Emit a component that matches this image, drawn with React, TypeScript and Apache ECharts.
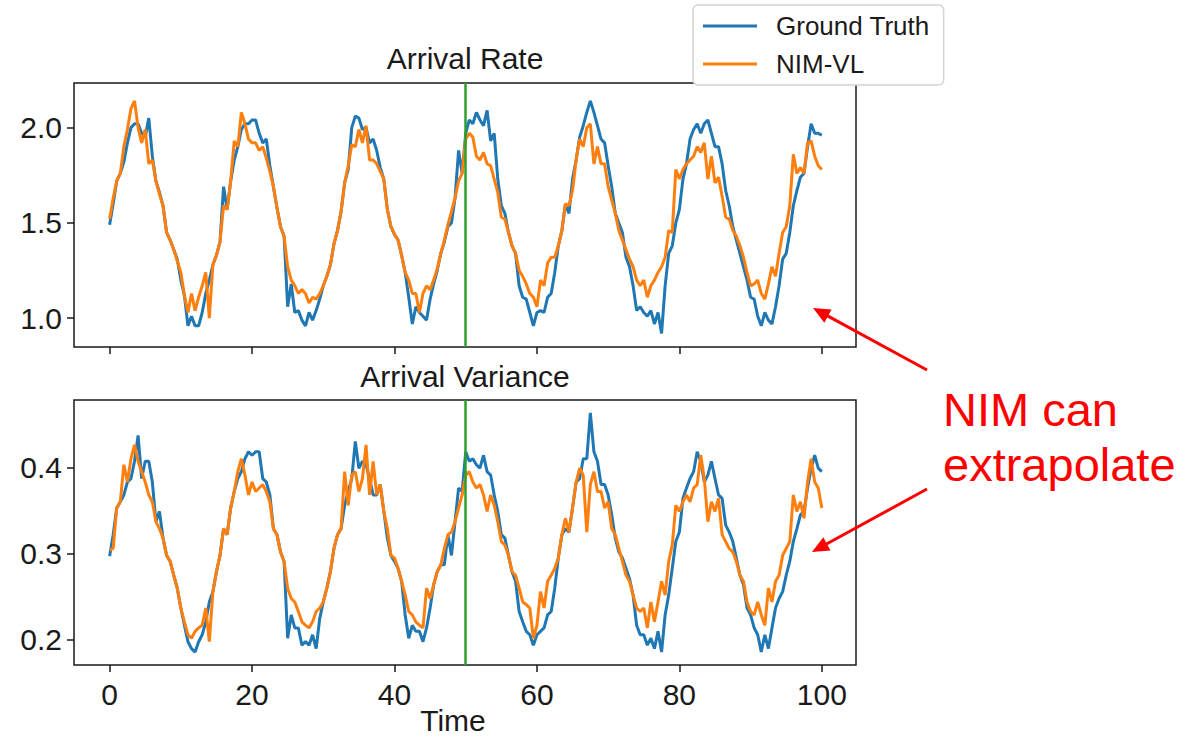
import React, { useEffect, useRef } from "react";
import * as echarts from "echarts";

const TIME_STEP = 0.5;
const X_TICKS = [0, 20, 40, 60, 80, 100];
const RATE_TICKS = [1.0, 1.5, 2.0];
const VAR_TICKS = [0.2, 0.3, 0.4];
const SPLIT_TIME = 50;

const rateTruth = [
  1.49, 1.60, 1.72, 1.76, 1.82, 1.92, 2.00, 2.02, 2.02, 1.97,
  1.95, 2.05, 1.85, 1.72, 1.66, 1.59, 1.45, 1.41, 1.36, 1.31,
  1.20, 1.12, 0.96, 1.01, 0.96, 0.96, 1.03, 1.13, 1.20, 1.28,
  1.33, 1.40, 1.69, 1.57, 1.72, 1.83, 1.90, 1.99, 2.02, 2.02,
  2.04, 2.04, 1.97, 1.92, 1.94, 1.80, 1.69, 1.58, 1.48, 1.43,
  1.06, 1.18, 1.03, 1.04, 0.99, 0.96, 1.03, 0.99, 1.04, 1.10,
  1.17, 1.22, 1.28, 1.39, 1.46, 1.56, 1.71, 1.78, 2.00, 2.06,
  2.05, 1.99, 2.00, 1.92, 1.94, 1.88, 1.79, 1.73, 1.57, 1.48,
  1.44, 1.41, 1.33, 1.24, 1.11, 0.97, 1.06, 1.03, 1.01, 0.99,
  1.10, 1.18, 1.25, 1.34, 1.40, 1.48, 1.50, 1.63, 1.88, 1.76,
  1.97, 2.04, 2.02, 2.08, 2.04, 2.01, 2.09, 1.93, 1.97, 1.73,
  1.59, 1.55, 1.45, 1.38, 1.34, 1.17, 1.11, 1.10, 1.03, 0.96,
  1.03, 1.04, 1.03, 1.11, 1.13, 1.24, 1.38, 1.46, 1.60, 1.55,
  1.73, 1.83, 1.95, 2.01, 2.08, 2.14, 2.08, 2.01, 1.94, 1.92,
  1.80, 1.69, 1.55, 1.50, 1.45, 1.32, 1.27, 1.17, 1.04, 1.06,
  1.03, 1.01, 1.04, 0.97, 1.03, 0.92, 1.17, 1.34, 1.38, 1.50,
  1.57, 1.73, 1.81, 1.94, 1.99, 2.02, 1.97, 2.02, 2.04, 1.97,
  1.90, 1.90, 1.81, 1.67, 1.59, 1.48, 1.41, 1.34, 1.27, 1.20,
  1.11, 1.10, 1.01, 0.96, 1.03, 0.99, 0.97, 1.06, 1.17, 1.31,
  1.34, 1.45, 1.59, 1.67, 1.74, 1.76, 1.90, 2.02, 1.97, 1.97,
  1.96,
];

const rateNim = [
  1.52, 1.63, 1.72, 1.76, 1.90, 1.99, 2.10, 2.14, 2.00, 1.92,
  1.99, 1.81, 1.83, 1.72, 1.65, 1.59, 1.45, 1.41, 1.36, 1.30,
  1.24, 1.12, 1.03, 1.13, 1.04, 1.11, 1.17, 1.24, 1.00, 1.28,
  1.33, 1.40, 1.59, 1.57, 1.72, 1.93, 1.90, 2.08, 2.02, 1.94,
  1.92, 1.92, 1.88, 1.90, 1.84, 1.77, 1.69, 1.58, 1.48, 1.43,
  1.27, 1.20, 1.17, 1.13, 1.15, 1.13, 1.08, 1.11, 1.10, 1.13,
  1.17, 1.22, 1.28, 1.39, 1.46, 1.56, 1.71, 1.80, 1.91, 1.90,
  1.99, 1.92, 2.01, 1.83, 1.83, 1.81, 1.77, 1.73, 1.57, 1.48,
  1.44, 1.41, 1.33, 1.24, 1.20, 1.13, 1.13, 1.03, 1.13, 1.17,
  1.15, 1.20, 1.26, 1.34, 1.41, 1.49, 1.56, 1.63, 1.72, 1.76,
  1.94, 1.97, 1.95, 1.85, 1.83, 1.87, 1.81, 1.80, 1.73, 1.66,
  1.53, 1.52, 1.45, 1.38, 1.34, 1.25, 1.22, 1.18, 1.13, 1.11,
  1.06, 1.20, 1.17, 1.29, 1.32, 1.32, 1.38, 1.46, 1.60, 1.59,
  1.67, 1.83, 1.94, 1.90, 2.00, 2.02, 1.81, 1.90, 1.81, 1.81,
  1.69, 1.62, 1.55, 1.46, 1.41, 1.36, 1.31, 1.27, 1.20, 1.17,
  1.20, 1.11, 1.17, 1.20, 1.24, 1.27, 1.32, 1.46, 1.45, 1.78,
  1.73, 1.78, 1.81, 1.83, 1.85, 1.90, 1.87, 1.92, 1.73, 1.85,
  1.71, 1.74, 1.64, 1.53, 1.52, 1.46, 1.43, 1.38, 1.32, 1.24,
  1.17, 1.18, 1.20, 1.13, 1.10, 1.18, 1.27, 1.22, 1.34, 1.45,
  1.48, 1.59, 1.86, 1.76, 1.79, 1.76, 1.92, 1.93, 1.85, 1.80,
  1.78,
];

const varTruth = [
  0.297, 0.322, 0.353, 0.360, 0.368, 0.383, 0.387, 0.407, 0.437, 0.387,
  0.407, 0.407, 0.383, 0.337, 0.349, 0.318, 0.298, 0.291, 0.275, 0.260,
  0.237, 0.217, 0.198, 0.190, 0.186, 0.198, 0.206, 0.221, 0.244, 0.256,
  0.279, 0.298, 0.329, 0.322, 0.353, 0.372, 0.387, 0.395, 0.410, 0.418,
  0.414, 0.418, 0.418, 0.387, 0.383, 0.368, 0.329, 0.322, 0.302, 0.291,
  0.202, 0.229, 0.214, 0.214, 0.194, 0.198, 0.194, 0.206, 0.190, 0.225,
  0.244, 0.260, 0.279, 0.306, 0.322, 0.329, 0.356, 0.372, 0.387, 0.430,
  0.399, 0.407, 0.403, 0.387, 0.368, 0.368, 0.380, 0.349, 0.318, 0.298,
  0.291, 0.283, 0.268, 0.229, 0.202, 0.217, 0.210, 0.210, 0.198, 0.214,
  0.237, 0.264, 0.279, 0.287, 0.287, 0.322, 0.298, 0.337, 0.376, 0.372,
  0.418, 0.407, 0.410, 0.403, 0.399, 0.414, 0.395, 0.391, 0.368, 0.349,
  0.322, 0.318, 0.298, 0.279, 0.268, 0.233, 0.221, 0.210, 0.206, 0.194,
  0.206, 0.210, 0.214, 0.229, 0.233, 0.260, 0.295, 0.322, 0.329, 0.325,
  0.353, 0.383, 0.387, 0.410, 0.410, 0.463, 0.418, 0.407, 0.380, 0.380,
  0.368, 0.345, 0.318, 0.302, 0.295, 0.283, 0.271, 0.252, 0.217, 0.206,
  0.206, 0.194, 0.202, 0.190, 0.210, 0.186, 0.229, 0.252, 0.283, 0.314,
  0.325, 0.364, 0.376, 0.387, 0.395, 0.418, 0.407, 0.383, 0.391, 0.407,
  0.387, 0.368, 0.364, 0.333, 0.325, 0.314, 0.295, 0.275, 0.264, 0.237,
  0.229, 0.214, 0.206, 0.186, 0.206, 0.190, 0.214, 0.237, 0.248, 0.256,
  0.275, 0.291, 0.314, 0.329, 0.345, 0.349, 0.376, 0.399, 0.414, 0.399,
  0.395,
];

const varNim = [
  0.304, 0.306, 0.353, 0.360, 0.403, 0.383, 0.410, 0.426, 0.407, 0.395,
  0.383, 0.368, 0.360, 0.337, 0.329, 0.318, 0.298, 0.291, 0.275, 0.260,
  0.237, 0.221, 0.206, 0.202, 0.210, 0.214, 0.217, 0.237, 0.198, 0.256,
  0.279, 0.298, 0.329, 0.322, 0.353, 0.372, 0.395, 0.410, 0.391, 0.368,
  0.383, 0.372, 0.376, 0.380, 0.372, 0.360, 0.329, 0.322, 0.302, 0.291,
  0.260, 0.248, 0.244, 0.233, 0.221, 0.217, 0.214, 0.221, 0.233, 0.237,
  0.244, 0.260, 0.279, 0.306, 0.322, 0.329, 0.395, 0.356, 0.391, 0.395,
  0.372, 0.387, 0.426, 0.368, 0.407, 0.368, 0.380, 0.349, 0.329, 0.298,
  0.295, 0.283, 0.268, 0.252, 0.233, 0.229, 0.221, 0.217, 0.214, 0.260,
  0.248, 0.264, 0.279, 0.287, 0.306, 0.322, 0.325, 0.337, 0.353, 0.368,
  0.391, 0.395, 0.383, 0.376, 0.380, 0.368, 0.349, 0.368, 0.356, 0.337,
  0.314, 0.310, 0.298, 0.279, 0.275, 0.260, 0.244, 0.241, 0.237, 0.202,
  0.217, 0.256, 0.237, 0.268, 0.275, 0.283, 0.295, 0.322, 0.341, 0.325,
  0.353, 0.383, 0.399, 0.391, 0.325, 0.380, 0.395, 0.372, 0.372, 0.353,
  0.360, 0.329, 0.322, 0.306, 0.291, 0.275, 0.268, 0.252, 0.237, 0.233,
  0.237, 0.214, 0.244, 0.221, 0.244, 0.268, 0.252, 0.291, 0.310, 0.356,
  0.349, 0.360, 0.368, 0.360, 0.376, 0.380, 0.414, 0.387, 0.337, 0.360,
  0.349, 0.364, 0.322, 0.314, 0.306, 0.302, 0.291, 0.275, 0.268, 0.244,
  0.233, 0.229, 0.244, 0.229, 0.217, 0.260, 0.244, 0.268, 0.275, 0.298,
  0.306, 0.314, 0.368, 0.349, 0.360, 0.341, 0.383, 0.410, 0.383, 0.376,
  0.353,
];

const FONT = "'Liberation Sans', Arial, Helvetica, sans-serif";
const BLUE = "#1f77b4";
const ORANGE = "#ff7f0e";
const GREEN = "#2ca02c";
const INK = "#1a1a1a";

const toPairs = (vals: number[]) => vals.map((v, i) => [i * TIME_STEP, v]);

function arrow(x1: number, y1: number, tx: number, ty: number) {
  const dx = tx - x1;
  const dy = ty - y1;
  const len = Math.sqrt(dx * dx + dy * dy);
  const ux = dx / len;
  const uy = dy / len;
  const head = 17;
  const half = 7.5;
  const bx = tx - ux * head;
  const by = ty - uy * head;
  const nx = -uy;
  const ny = ux;
  return [
    {
      type: "line",
      shape: { x1, y1, x2: bx + ux * 2, y2: by + uy * 2 },
      style: { stroke: "#ff0000", lineWidth: 3 },
    },
    {
      type: "polygon",
      shape: {
        points: [
          [tx, ty],
          [bx + nx * half, by + ny * half],
          [bx - nx * half, by - ny * half],
        ],
      },
      style: { fill: "#ff0000" },
    },
  ];
}

export default function App() {
  const ref = useRef<HTMLDivElement>(null);

  useEffect(() => {
    document.body.style.margin = "0";
    if (!ref.current) return;
    const chart = echarts.init(ref.current, null, { renderer: "svg" });

    const xAxisBase = (gridIndex: number, showLabels: boolean) => ({
      type: "value",
      gridIndex,
      min: -5,
      max: 104.8,
      axisLine: { show: false, onZero: false },
      splitLine: { show: false },
      axisTick: {
        show: true,
        customValues: X_TICKS,
        length: 7,
        lineStyle: { color: INK, width: 1.5 },
      },
      axisLabel: {
        show: showLabels,
        customValues: X_TICKS,
        margin: 14,
        fontSize: 30,
        fontFamily: FONT,
        color: INK,
      },
    });

    const yAxisBase = (gridIndex: number, min: number, max: number, ticks: number[]) => ({
      type: "value",
      gridIndex,
      min,
      max,
      axisLine: { show: false, onZero: false },
      splitLine: { show: false },
      axisTick: {
        show: true,
        customValues: ticks,
        length: 7,
        lineStyle: { color: INK, width: 1.5 },
      },
      axisLabel: {
        customValues: ticks,
        margin: 12,
        fontSize: 30,
        fontFamily: FONT,
        color: INK,
        formatter: (v: number) => v.toFixed(1),
      },
    });

    const splitMark = {
      silent: true,
      symbol: ["none", "none"],
      label: { show: false },
      lineStyle: { color: GREEN, width: 2.5, type: "solid" },
      emphasis: { disabled: true },
      data: [{ xAxis: SPLIT_TIME }],
    };

    const lineSeries = (name: string, color: string, vals: number[], idx: number, mark: boolean) => ({
      type: "line",
      name,
      xAxisIndex: idx,
      yAxisIndex: idx,
      data: toPairs(vals),
      showSymbol: false,
      symbol: "none",
      lineStyle: { color, width: 3 },
      itemStyle: { color },
      z: name === "NIM-VL" ? 3 : 2,
      ...(mark ? { markLine: splitMark } : {}),
    });

    chart.setOption({
      animation: false,
      backgroundColor: "#ffffff",
      textStyle: { fontFamily: FONT },
      grid: [
        { left: 74, top: 83, width: 782, height: 264, show: true, borderColor: INK, borderWidth: 1.5, backgroundColor: "transparent" },
        { left: 74, top: 400, width: 782, height: 265, show: true, borderColor: INK, borderWidth: 1.5, backgroundColor: "transparent" },
      ],
      xAxis: [xAxisBase(0, false), xAxisBase(1, true)],
      yAxis: [
        yAxisBase(0, 0.849, 2.234, RATE_TICKS),
        yAxisBase(1, 0.171, 0.478, VAR_TICKS),
      ],
      legend: {
        orient: "vertical",
        left: 693,
        top: 5,
        icon: "rect",
        itemWidth: 54,
        itemHeight: 3,
        itemGap: 12,
        padding: [8, 14, 8, 10],
        backgroundColor: "#ffffff",
        borderColor: "#d4d4d4",
        borderWidth: 1.5,
        borderRadius: 5,
        data: ["Ground Truth", "NIM-VL"],
        textStyle: { fontSize: 26, color: INK, fontFamily: FONT, padding: [0, 0, 0, 14] },
      },
      series: [
        lineSeries("Ground Truth", BLUE, rateTruth, 0, false),
        lineSeries("NIM-VL", ORANGE, rateNim, 0, true),
        lineSeries("Ground Truth", BLUE, varTruth, 1, false),
        lineSeries("NIM-VL", ORANGE, varNim, 1, true),
      ],
      graphic: [
        {
          type: "text",
          x: 465,
          y: 58,
          style: { text: "Arrival Rate", fontSize: 30, fontFamily: FONT, fill: INK, textAlign: "center", textVerticalAlign: "middle" },
        },
        {
          type: "text",
          x: 465,
          y: 376,
          style: { text: "Arrival Variance", fontSize: 30, fontFamily: FONT, fill: INK, textAlign: "center", textVerticalAlign: "middle" },
        },
        {
          type: "text",
          x: 453,
          y: 720,
          style: { text: "Time", fontSize: 30, fontFamily: FONT, fill: INK, textAlign: "center", textVerticalAlign: "middle" },
        },
        {
          type: "text",
          x: 943,
          y: 409,
          style: { text: "NIM can", fontSize: 47, fontFamily: FONT, fill: "#ff0000", textAlign: "left", textVerticalAlign: "middle" },
        },
        {
          type: "text",
          x: 943,
          y: 464,
          style: { text: "extrapolate", fontSize: 47, fontFamily: FONT, fill: "#ff0000", textAlign: "left", textVerticalAlign: "middle" },
        },
        ...arrow(927, 370, 813, 308),
        ...arrow(927, 489, 812, 552),
      ],
    });

    return () => chart.dispose();
  }, []);

  return <div ref={ref} style={{ width: 1189, height: 740 }} />;
}
